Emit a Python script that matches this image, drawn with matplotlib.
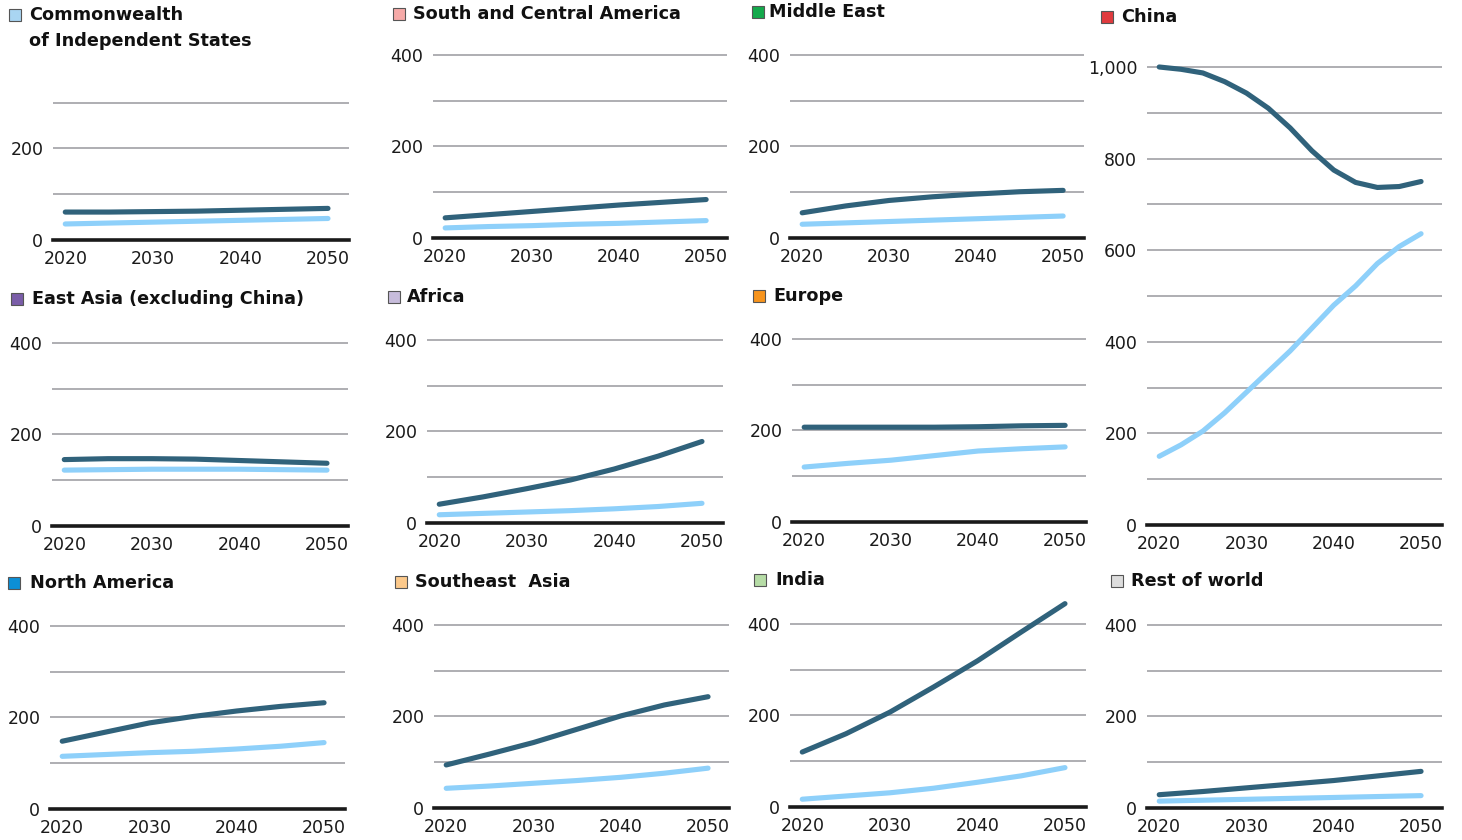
import numpy as np
import matplotlib.pyplot as plt
from matplotlib.patches import Rectangle

# Data
years = [2020, 2025, 2030, 2035, 2040, 2045, 2050]
china_years = [2020, 2022.5, 2025, 2027.5, 2030, 2032.5, 2035,
               2037.5, 2040, 2042.5, 2045, 2047.5, 2050]

cis_dark = [61, 61, 62, 63, 65, 67, 69]
cis_light = [35, 37, 39, 41, 43, 45, 47]
sca_dark = [44, 51, 58, 65, 72, 78, 84]
sca_light = [22, 25, 27, 30, 32, 35, 38]
me_dark = [55, 70, 82, 90, 96, 101, 104]
me_light = [30, 33, 36, 39, 42, 45, 48]
china_dark = [1000, 995, 987, 968, 943, 910, 867, 817, 775, 748, 737, 739, 750]
china_light = [150, 175, 205, 245, 290, 335, 380, 430, 480, 522, 571, 608, 636]
ea_dark = [145, 147, 147, 146, 143, 140, 137]
ea_light = [122, 123, 124, 124, 124, 123, 122]
africa_dark = [41, 57, 75, 94, 118, 146, 178]
africa_light = [18, 21, 24, 27, 31, 36, 43]
europe_dark = [207, 207, 207, 207, 208, 210, 211]
europe_light = [120, 128, 135, 145, 155, 160, 164]
na_dark = [148, 168, 188, 202, 214, 224, 232]
na_light = [115, 119, 123, 126, 131, 137, 145]
sea_dark = [94, 118, 143, 172, 201, 225, 243]
sea_light = [43, 48, 54, 60, 67, 76, 87]
india_dark = [120, 160, 207, 262, 319, 382, 444]
india_light = [17, 24, 31, 41, 54, 68, 86]
row_dark = [29, 36, 44, 52, 60, 70, 80]
row_light = [15, 17, 19, 21, 23, 25, 27]

titles = ["Commonwealth\nof Independent States", "South and Central America",
          "Middle East", "China", "East Asia (excluding China)", "Africa",
          "Europe", "North America", "Southeast  Asia", "India", "Rest of world"]
swatches = ['#a9d5f2', '#f6aaa8', '#13a94b', '#e03a3e', '#7a5da8', '#c7bcdb',
            '#f7941d', '#0c8fd6', '#fcc98b', '#b6dca6', '#dddddd']

DARK = '#30627b'
LIGHT = '#8ed0fa'
GRID = '#a8a8ac'

W, H = 1462, 840
PPU = 0.458  # pixels per unit

fig = plt.figure(figsize=(W / 100, H / 100), dpi=100)
fig.patch.set_facecolor('white')

# layout: axes left px, right px, baseline px, y top value, title x, square x, cap-top y
layout = [
    (53, 349, 240, 460, 29, 9, 8),
    (433, 727, 238, 460, 413, 393, 7),
    (790, 1084, 238, 460, 769, 752, 5),
    (1147, 1442, 525, 1030, 1121, 1101, 10),
    (52, 348, 526, 460, 32, 11, 292),
    (427, 723, 523, 460, 407, 388, 290),
    (792, 1086, 522, 460, 773, 753, 289),
    (50, 345, 809, 460, 30, 8, 576),
    (434, 729, 808, 460, 415, 395, 575),
    (790, 1086, 807, 460, 775, 754, 573),
    (1147, 1442, 808, 460, 1131, 1111, 574),
]

series = [
    (years, cis_dark, cis_light), (years, sca_dark, sca_light),
    (years, me_dark, me_light), (china_years, china_dark, china_light),
    (years, ea_dark, ea_light), (years, africa_dark, africa_light),
    (years, europe_dark, europe_light), (years, na_dark, na_light),
    (years, sea_dark, sea_light), (years, india_dark, india_light),
    (years, row_dark, row_light),
]

for i, (lay, ser) in enumerate(zip(layout, series)):
    left, right, base, top, tx, sx, cap = lay
    x, dark, light = ser
    ax = fig.add_axes([left / W, 1 - base / H, (right - left) / W, top * PPU / H])
    ax.set_facecolor('none')

    ax.plot(x, light, color=LIGHT, lw=3.7, solid_capstyle='round',
            solid_joinstyle='round', zorder=3)
    ax.plot(x, dark, color=DARK, lw=3.7, solid_capstyle='round',
            solid_joinstyle='round', zorder=4)

    ax.set_xlim(2018.6, 2052.4)
    ax.set_ylim(0, top)

    if i == 3:
        yt = list(range(0, 1001, 100))
    elif i == 0:
        yt = [0, 100, 200, 300]
    else:
        yt = [0, 100, 200, 300, 400]
    ylab = [(f'{v:,}' if v % 200 == 0 else '') for v in yt]
    ax.set_yticks(yt)
    ax.set_yticklabels(ylab)
    ax.set_xticks([2020, 2030, 2040, 2050])
    ax.tick_params(axis='both', length=0, labelsize=12.5, colors='#1a1a1a')
    ax.tick_params(axis='y', pad=7)
    ax.tick_params(axis='x', pad=7)
    ax.yaxis.grid(True, color=GRID, lw=1.3)
    ax.set_axisbelow(True)
    for s in ['top', 'right', 'left']:
        ax.spines[s].set_visible(False)
    ax.spines['bottom'].set_color('#1a1a1a')
    ax.spines['bottom'].set_linewidth(2.6)
    ax.spines['bottom'].set_zorder(5)

    # title with coloured square
    fig.text(tx / W, 1 - (cap - 2) / H, titles[i], fontsize=12.7, fontweight='bold',
             ha='left', va='top', color='#111111', linespacing=1.55)
    fig.patches.append(Rectangle((sx / W, 1 - (cap + 13) / H), 12 / W, 12 / H,
                                 transform=fig.transFigure, facecolor=swatches[i],
                                 edgecolor='#555555', lw=0.8))

plt.savefig('out.png', dpi=100)
